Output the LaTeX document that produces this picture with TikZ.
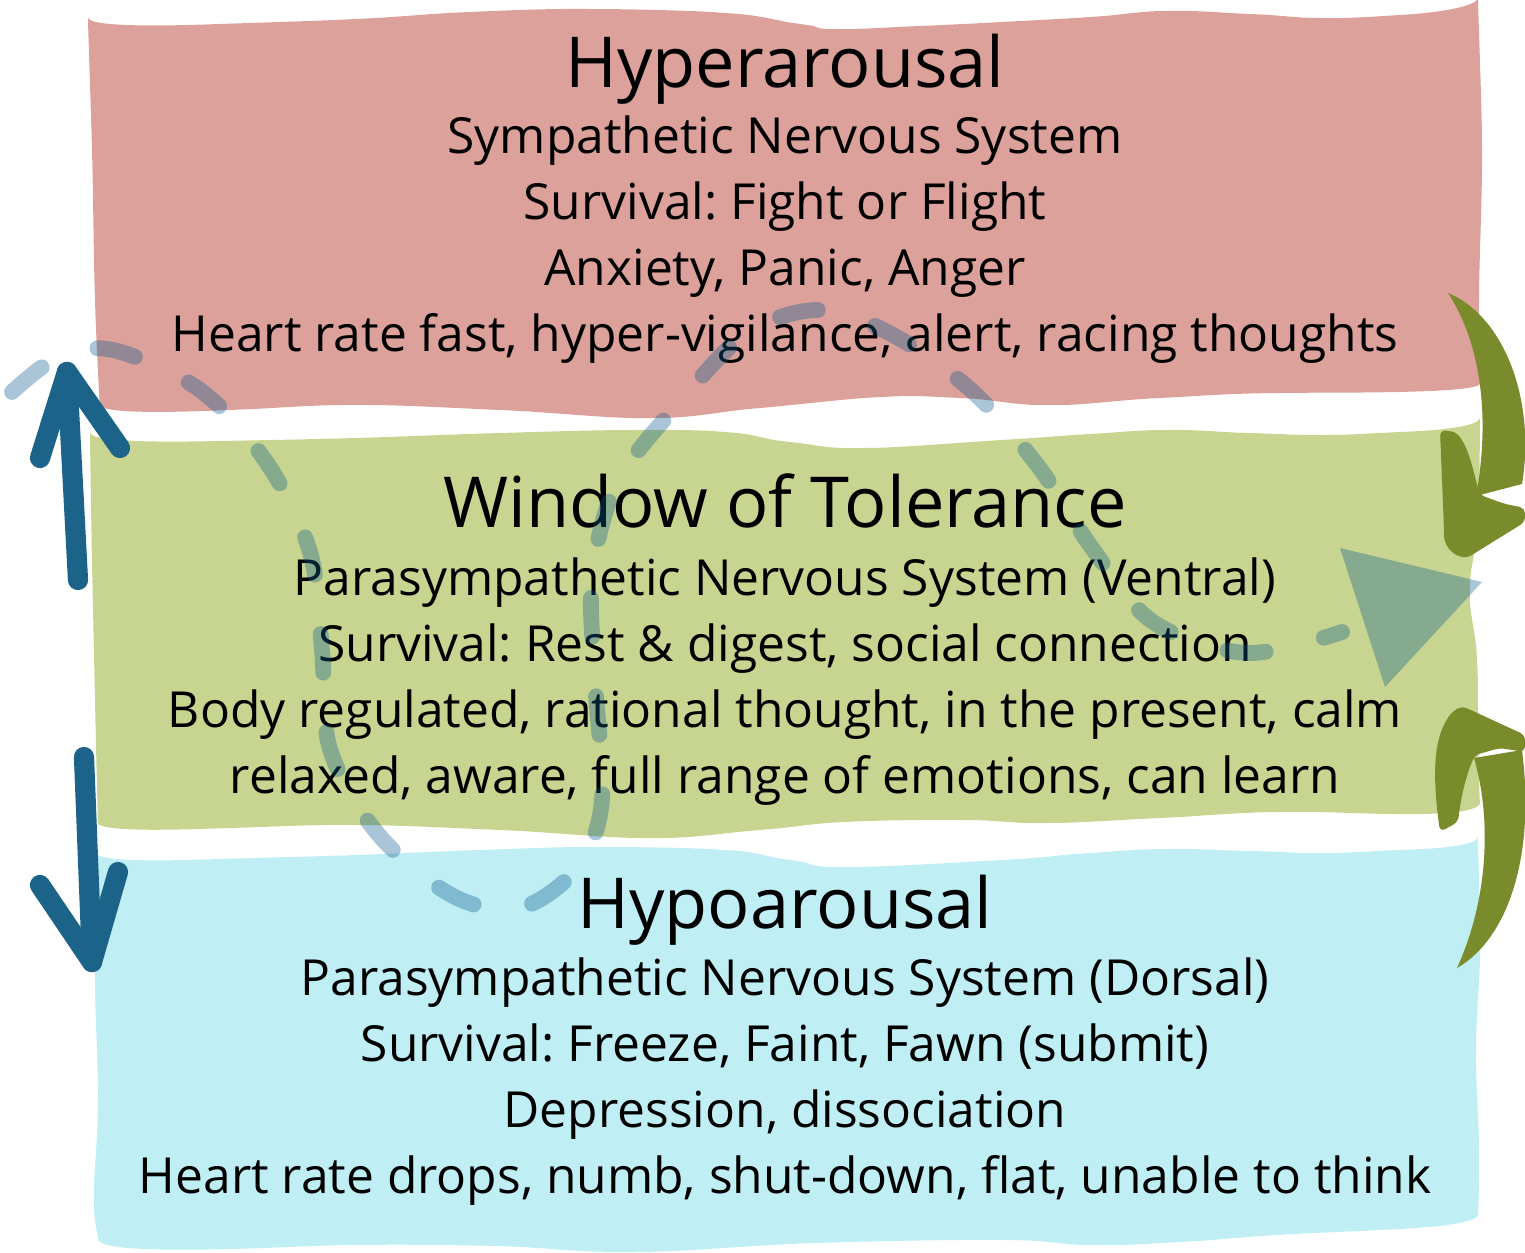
\documentclass[tikz,border=0pt]{standalone}
\usepackage{fontspec}
\setmainfont{Open Sans}
\usetikzlibrary{positioning}

\definecolor{hyperred}{RGB}{219,161,154}
\definecolor{windowgreen}{RGB}{200,213,144}
\definecolor{hypoblue}{RGB}{191,239,245}
\definecolor{arrowblue}{RGB}{28,99,137}
\definecolor{arrowolive}{RGB}{122,139,43}
\definecolor{loopblue}{RGB}{10,90,140}

\frenchspacing

\begin{document}
\begin{tikzpicture}[
	x=0.02cm,y=-0.02cm,
	zonetitle/.style={font=\fontsize{40}{44}\selectfont, anchor=base, inner sep=0pt},
	zonetext/.style={font=\fontsize{28.3}{32}\selectfont, anchor=base, inner sep=0pt},
	looppath/.style={draw=loopblue, draw opacity=0.35, line width=9pt, line cap=round, dash pattern=on 22pt off 34pt},
	bluearrow/.style={draw=arrowblue, line width=11.5pt, line cap=round, line join=round},
	olivearrow/.style={fill=arrowolive, rounded corners=3pt}
	]
	\useasboundingbox (0,0) rectangle (1525,1253);
	
	% --------------------------
	% the three zones (wavy bands)
	% --------------------------
	\fill[hyperred, rounded corners=6pt]
		plot[smooth, tension=.6] coordinates {(88,28) (220,24) (356,19) (470,12) (587,9) (725,13) (800,24) (836,29) (920,26) (1002,22) (1090,17) (1167,11) (1250,14) (1324,18) (1400,15) (1478,8)}
		-- plot[smooth] coordinates {(1478,8) (1482,150) (1479,300) (1480,394)}
		-- plot[smooth, tension=.6] coordinates {(1480,394) (1280,393) (1160,398) (1050,405) (960,398) (882,397) (760,408) (651,418) (500,410) (356,405) (230,410) (100,415)}
		-- plot[smooth] coordinates {(100,415) (95,300) (92,150) (88,28)} -- cycle;
	
	\fill[windowgreen, rounded corners=6pt]
		plot[smooth, tension=.6] coordinates {(90,443) (220,441) (356,438) (500,433) (633,430) (725,432) (790,442) (863,448) (1002,440) (1090,434) (1167,430) (1250,433) (1324,435) (1400,432) (1480,428)}
		-- plot[smooth] coordinates {(1480,428) (1478,520) (1470,591) (1477,660) (1478,740) (1480,813)}
		-- plot[smooth, tension=.6] coordinates {(1480,813) (1400,814) (1278,812) (1160,818) (1048,823) (960,820) (845,822) (760,830) (651,838) (500,830) (356,825) (230,828) (98,833)}
		-- plot[smooth] coordinates {(98,833) (95,700) (92,560) (90,443)} -- cycle;
	
	\fill[hypoblue, rounded corners=6pt]
		plot[smooth, tension=.6] coordinates {(96,863) (220,859) (356,855) (480,850) (596,847) (725,850) (790,860) (845,867) (1002,860) (1090,853) (1167,849) (1250,851) (1324,853) (1400,850) (1478,847)}
		-- plot[smooth] coordinates {(1478,847) (1480,950) (1476,1050) (1479,1150) (1478,1225)}
		-- plot[smooth, tension=.6] coordinates {(1478,1225) (1380,1230) (1278,1235) (1180,1242) (1094,1245) (1002,1240) (817,1243) (633,1252) (495,1246) (356,1245) (230,1249) (100,1251)}
		-- plot[smooth] coordinates {(100,1251) (94,1200) (98,1100) (95,980) (96,863)} -- cycle;
	
	% --------------------------
	% texts
	% --------------------------
	\node[zonetitle] (hyper) at (785,88) {Hyperarousal};
	\foreach \txt [count=\i] in {Sympathetic Nervous System, {Survival: Fight or Flight}, {Anxiety, Panic, Anger}, {Heart rate fast, hyper-vigilance, alert, racing thoughts}}
		\node[zonetext] (hyper-\i) at (785,{154+66*(\i-1)}) {\txt};
	
	\node[zonetitle] (window) at (785,527) {Window of Tolerance};
	\foreach \txt [count=\i] in {Parasympathetic Nervous System (Ventral), {Survival: Rest \& digest, social connection}, {Body regulated, rational thought, in the present, calm}, {relaxed, aware, full range of emotions, can learn}}
		\node[zonetext] (window-\i) at (785,{595+66*(\i-1)}) {\txt};
	
	\node[zonetitle] (hypo) at (785,928) {Hypoarousal};
	\foreach \txt [count=\i] in {Parasympathetic Nervous System (Dorsal), {Survival: Freeze, Faint, Fawn (submit)}, {Depression, dissociation}, {Heart rate drops, numb, shut-down, flat, unable to think}}
		\node[zonetext] (hypo-\i) at (785,{995+66*(\i-1)}) {\txt};
	
	% --------------------------
	% dashed loop through the zones
	% --------------------------
	\draw[looppath] plot[smooth, tension=.55] coordinates {(12,392) (57,358) (113,350) (200,390) (267,463) (310,552) (322,650) (330,749) (378,834) (453,896) (520,908) (578,867) (602,800) (595,680) (592,577) (617,483) (678,404) (747,333) (820,310) (893,335) (972,391) (1038,466) (1092,548) (1153,622) (1247,653) (1342,632)};
	\fill[loopblue, fill opacity=0.35] (1340,548) -- (1482,582) -- (1385,687) -- cycle;
	
	% --------------------------
	% left arrows (up and down)
	% --------------------------
	\coordinate (uptip) at (67,372);
	\draw[bluearrow] (78,580) -- (uptip);
	\draw[bluearrow] (40,458) -- (uptip) -- (120,448);
	
	\coordinate (downtip) at (92,962);
	\draw[bluearrow] (84,757) -- (downtip);
	\draw[bluearrow] (40,885) -- (downtip) -- (118,872);
	
	% --------------------------
	% right arrows (back to the window)
	% --------------------------
	\fill[arrowolive] (1448,293) .. controls (1504,316) and (1536,400) .. (1522,484)
		-- (1476,496) .. controls (1490,420) and (1482,345) .. (1448,293) -- cycle;
	\fill[olivearrow] (1440,430) -- (1456,432) .. controls (1470,450) and (1474,475) .. (1480,495)
		-- (1505,504) -- (1525,508) -- (1525,522) -- (1467,558)
		.. controls (1452,555) and (1444,545) .. (1444,530) -- cycle;
	
	\fill[arrowolive] (1457,968) .. controls (1506,940) and (1536,860) .. (1522,750)
		-- (1474,758) .. controls (1492,820) and (1488,900) .. (1457,968) -- cycle;
	\fill[olivearrow] (1440,832) .. controls (1433,780) and (1432,740) .. (1452,712)
		-- (1462,706) -- (1525,735) -- (1525,752) -- (1500,748) -- (1475,755)
		.. controls (1464,780) and (1460,805) .. (1458,822) -- cycle;
	
\end{tikzpicture}
\end{document}
